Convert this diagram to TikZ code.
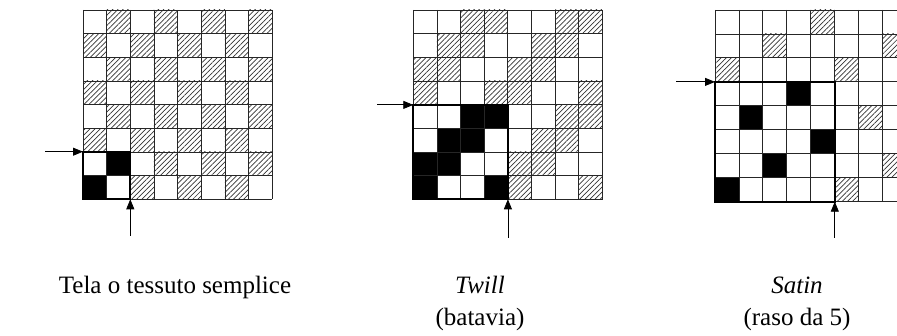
\documentclass[tikz,border=0pt]{standalone}
\usepackage{fontspec}
\setmainfont{Liberation Serif}
\usetikzlibrary{arrows.meta,patterns.meta}
\tikzset{
  cellline/.style={draw=black!85, line width=0.9pt},
  hatchcell/.style={pattern={Lines[angle=45,distance=3.6pt,line width=0.7pt]}, pattern color=black!80},
  blackcell/.style={fill=black},
  unitframe/.style={draw=black, line width=2.2pt},
  feed/.style={draw=black, line width=0.8pt, -{Triangle[length=10pt,width=8pt]}},
  caption/.style={font=\fontsize{25}{28}\selectfont, anchor=base, inner sep=0pt}
}
\begin{document}
\begin{tikzpicture}[x=1pt,y=-1pt]
\useasboundingbox (0,0) rectangle (897,336);
\clip (0,0) rectangle (897,336);

% ---------- Grid 1: plain weave ----------
\begin{scope}[shift={(83,10)}]
  \def\cs{23.66}
  \foreach \r in {0,...,7}{\foreach \c in {0,...,7}{
    \pgfmathtruncatemacro\on{mod(\r+\c,2)}
    \pgfmathtruncatemacro\inunit{(\r>5)&&(\c<2)}
    \ifnum\on=1
      \ifnum\inunit=1 \fill[blackcell] (\c*\cs,\r*\cs) rectangle ++(\cs,\cs);
      \else \path[hatchcell] (\c*\cs,\r*\cs) rectangle ++(\cs,\cs);\fi
    \fi
  }}
  \foreach \i in {0,...,8}{
    \draw[cellline] (\i*\cs,0) -- (\i*\cs,8*\cs);
    \draw[cellline] (0,\i*\cs) -- (8*\cs,\i*\cs);
  }
  \draw[unitframe] (0,6*\cs) rectangle (2*\cs,8*\cs);
  \coordinate (u1tl) at (0,6*\cs);
  \coordinate (u1br) at (2*\cs,8*\cs);
\end{scope}
\coordinate (a1from) at (45,151.7);
\coordinate (b1from) at (130.3,236);
\draw[feed] (a1from) -- (a1from -| u1tl);
\draw[feed] (b1from) -- (b1from |- u1br);

% ---------- Grid 2: twill ----------
\begin{scope}[shift={(413.3,10)}]
  \def\cs{23.66}
  \foreach \r in {0,...,7}{\foreach \c in {0,...,7}{
    \pgfmathtruncatemacro\on{mod(\r+\c,4)>1}
    \pgfmathtruncatemacro\inunit{(\r>3)&&(\c<4)}
    \ifnum\on=1
      \ifnum\inunit=1 \fill[blackcell] (\c*\cs,\r*\cs) rectangle ++(\cs,\cs);
      \else \path[hatchcell] (\c*\cs,\r*\cs) rectangle ++(\cs,\cs);\fi
    \fi
  }}
  \foreach \i in {0,...,8}{
    \draw[cellline] (\i*\cs,0) -- (\i*\cs,8*\cs);
    \draw[cellline] (0,\i*\cs) -- (8*\cs,\i*\cs);
  }
  \draw[unitframe] (0,4*\cs) rectangle (4*\cs,8*\cs);
  \coordinate (u2tl) at (0,4*\cs);
  \coordinate (u2br) at (4*\cs,8*\cs);
\end{scope}
\coordinate (a2from) at (377,104.9);
\coordinate (b2from) at (507.9,238);
\draw[feed] (a2from) -- (a2from -| u2tl);
\draw[feed] (b2from) -- (b2from |- u2br);

% ---------- Grid 3: satin ----------
\begin{scope}[shift={(715,10)}]
  \def\cs{23.96}
  \foreach \r in {0,...,7}{\foreach \c in {0,...,7}{
    \pgfmathtruncatemacro\on{mod(\c+50-2*(7-\r),5)==0}
    \pgfmathtruncatemacro\inunit{(\r>2)&&(\c<5)}
    \ifnum\on=1
      \ifnum\inunit=1 \fill[blackcell] (\c*\cs,\r*\cs) rectangle ++(\cs,\cs);
      \else \path[hatchcell] (\c*\cs,\r*\cs) rectangle ++(\cs,\cs);\fi
    \fi
  }}
  \foreach \i in {0,...,8}{
    \draw[cellline] (\i*\cs,0) -- (\i*\cs,8*\cs);
    \draw[cellline] (0,\i*\cs) -- (8*\cs,\i*\cs);
  }
  \draw[unitframe] (0,3*\cs) rectangle (5*\cs,8*\cs);
  \coordinate (u3tl) at (0,3*\cs);
  \coordinate (u3br) at (5*\cs,8*\cs);
\end{scope}
\coordinate (a3from) at (676,81.9);
\coordinate (b3from) at (834.8,238);
\draw[feed] (a3from) -- (a3from -| u3tl);
\draw[feed] (b3from) -- (b3from |- u3br);

% ---------- captions ----------
\node[caption] (t1) at (175,294) {Tela o tessuto semplice};
\node[caption] (t2) at (480,294) {\textit{Twill}};
\node[caption] (t2b) at (480,326) {(batavia)};
\node[caption] (t3) at (797,294) {\textit{Satin}};
\node[caption] (t3b) at (797,326) {(raso da 5)};
\end{tikzpicture}
\end{document}
